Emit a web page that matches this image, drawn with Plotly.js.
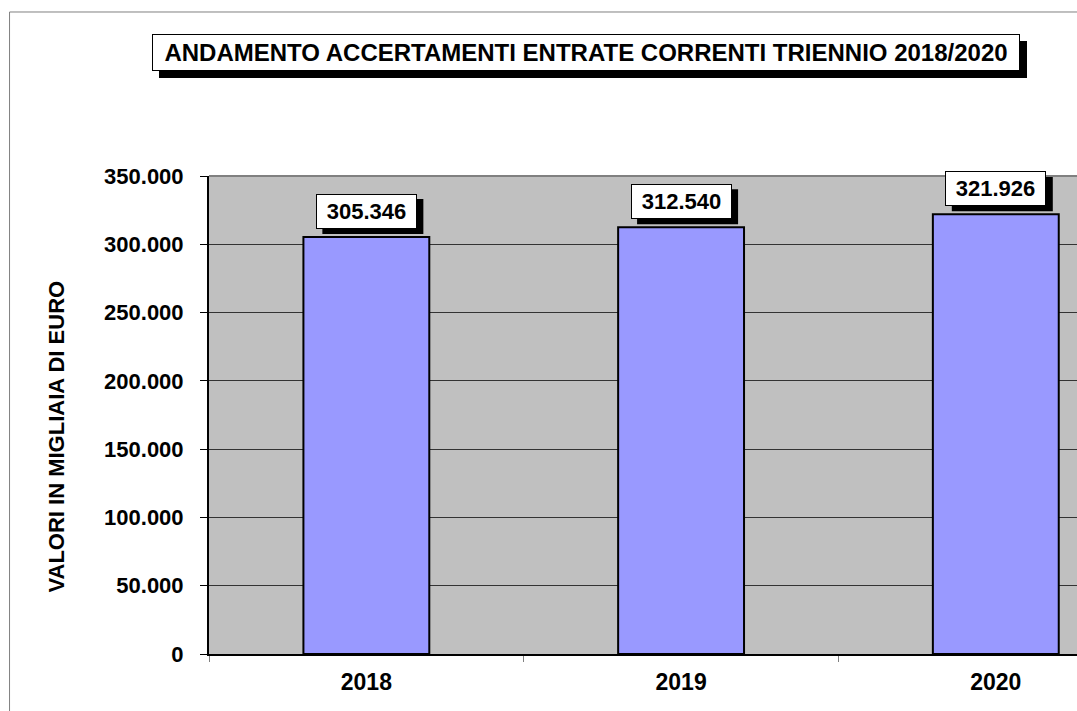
<!DOCTYPE html>
<html>
<head>
<meta charset="utf-8">
<script src="https://cdn.plot.ly/plotly-3.0.1.min.js"></script>
<style>
html, body { margin: 0; padding: 0; background: #fff; overflow: hidden; }
#chart { width: 1077px; height: 711px; }
</style>
</head>
<body>
<div id="chart"></div>
<script>
// ---- data ----
const categories = ['2018', '2019', '2020'];
const values = [305346, 312540, 321926];
const chartTitle = 'ANDAMENTO ACCERTAMENTI ENTRATE CORRENTI TRIENNIO 2018/2020';
const yTitle = 'VALORI IN MIGLIAIA DI EURO';
const yTickVals = [0, 50000, 100000, 150000, 200000, 250000, 300000, 350000];

function fmt(v) {
  return String(v).replace(/\B(?=(\d{3})+(?!\d))/g, '.');
}

const FONT = 'Liberation Sans, Arial, Helvetica, sans-serif';

const trace = {
  type: 'bar',
  x: categories,
  y: values,
  width: 0.4,
  marker: { color: '#9999FF', line: { color: '#000000', width: 2 } },
  hoverinfo: 'skip'
};

const annotations = [];
const shapes = [];

// title box
annotations.push({
  xref: 'paper', yref: 'paper', x: 0.4343, y: 1.2584,
  xanchor: 'center', yanchor: 'middle',
  text: chartTitle, showarrow: false,
  font: { family: FONT, size: 24, color: '#000000', weight: 'bold' },
  bgcolor: '#FFFFFF', bordercolor: '#000000', borderwidth: 1, borderpad: 1,
  width: 864, height: 33
});
// title shadow
shapes.push({
  type: 'rect', xref: 'paper', yref: 'paper',
  x0: -0.0576, x1: 0.9424, y0: 1.205, y1: 1.2824,
  fillcolor: '#000000', line: { width: 0 }, layer: 'above'
});

// data labels with shadows
categories.forEach((c, i) => {
  annotations.push({
    x: i, y: values[i], xref: 'x', yref: 'y',
    xanchor: 'center', yanchor: 'bottom', showarrow: false,
    text: fmt(values[i]),
    font: { family: FONT, size: 22, color: '#000000', weight: 'bold' },
    bgcolor: '#FFFFFF', bordercolor: '#000000',
    borderwidth: 1, borderpad: 1, width: 97, height: 31, yshift: 8
  });
  shapes.push({
    type: 'rect', xref: 'x', yref: 'y',
    xsizemode: 'pixel', xanchor: i, x0: -50 + 6, x1: 51 + 6,
    ysizemode: 'pixel', yanchor: values[i], y0: 3, y1: 38,
    fillcolor: '#000000', line: { width: 0 }, layer: 'above'
  });
});

// y axis title
annotations.push({
  xref: 'paper', yref: 'paper', x: -0.1757, y: 0.456,
  xanchor: 'center', yanchor: 'middle', textangle: -90,
  text: yTitle, showarrow: false,
  font: { family: FONT, size: 22, color: '#000000', weight: 'bold' }
});

// outer chart frame (left & top edges visible) and plot top border
shapes.push(
  { type: 'line', xref: 'paper', yref: 'paper', x0: -0.2298, x1: 1.1, y0: 1.3431, y1: 1.3431,
    line: { color: '#808080', width: 1 } },
  { type: 'line', xref: 'paper', yref: 'paper', x0: -0.2298, x1: -0.2298, y0: 1.3431, y1: -0.2,
    line: { color: '#808080', width: 1 } },
  { type: 'line', xref: 'paper', yref: 'paper', x0: 0, x1: 1, y0: 1, y1: 1,
    line: { color: '#808080', width: 2 } }
);

const layout = {
  width: 1077, height: 711,
  margin: { l: 209, r: 0, t: 176, b: 57, pad: 0 },
  paper_bgcolor: '#FFFFFF',
  plot_bgcolor: '#C0C0C0',
  separators: ',.',
  showlegend: false,
  font: { family: FONT, color: '#000000' },
  xaxis: {
    type: 'category',
    range: [-0.5, 2.258],
    tickson: 'boundaries',
    ticks: 'outside', ticklen: 6, tickcolor: '#808080', tickwidth: 1,
    showgrid: false, zeroline: false,
    showline: true, linecolor: '#000000', linewidth: 2,
    tickfont: { family: FONT, size: 23, color: '#000000', weight: 'bold' },
    ticklabelstandoff: 6,
    fixedrange: true
  },
  yaxis: {
    range: [0, 350000],
    tickvals: yTickVals,
    tickformat: ',d',
    ticks: 'outside', ticklen: 7, tickcolor: '#000000', tickwidth: 1,
    showgrid: true, gridcolor: '#333333', gridwidth: 1,
    zeroline: false,
    showline: true, linecolor: '#000000', linewidth: 2,
    tickfont: { family: FONT, size: 22, color: '#000000', weight: 'bold' },
    ticklabelstandoff: 12,
    fixedrange: true
  },
  shapes: shapes,
  annotations: annotations
};

Plotly.newPlot('chart', [trace], layout, { displayModeBar: false, staticPlot: true });
</script>
</body>
</html>
